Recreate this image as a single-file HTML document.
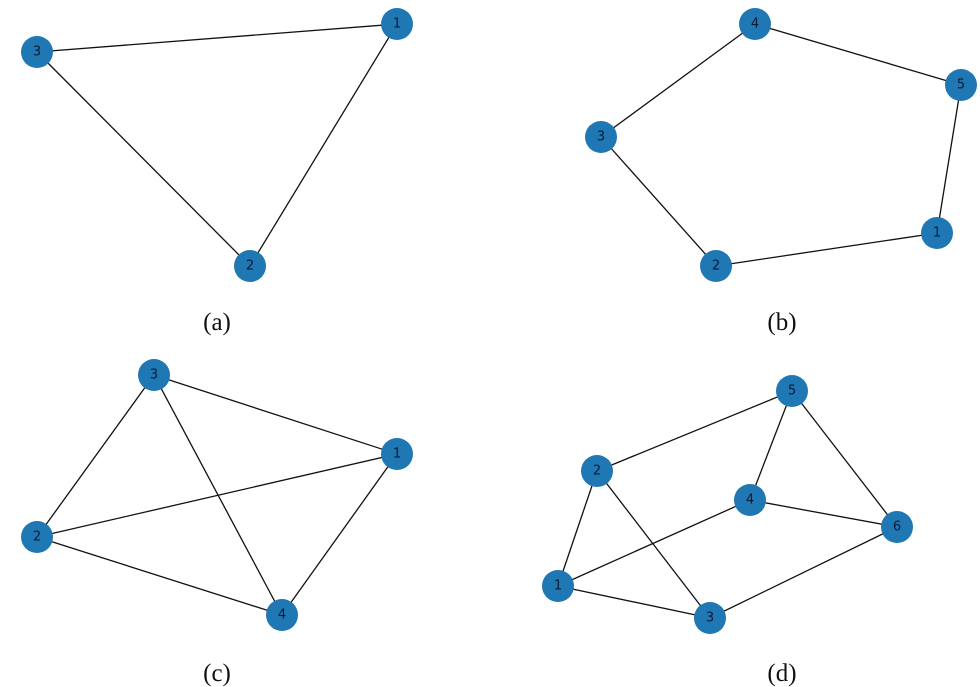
<!DOCTYPE html>
<html><head><meta charset="utf-8"><style>
html,body{margin:0;padding:0;background:#fff;width:980px;height:687px;overflow:hidden}
svg{display:block}
.n{fill:#1f77b4}
.t{font-family:"DejaVu Sans","Liberation Sans",sans-serif;font-size:13px;fill:#0b1b35;text-anchor:middle;dominant-baseline:central}
.c{font-family:"Liberation Serif",serif;font-size:25px;fill:#111;text-anchor:middle}
line{stroke:#111;stroke-width:1.3}
</style></head><body>
<svg width="980" height="687" viewBox="0 0 980 687">
<g>
<line x1="37" y1="52" x2="397" y2="24"/><line x1="37" y1="52" x2="250" y2="266"/><line x1="397" y1="24" x2="250" y2="266"/>
<line x1="755" y1="24" x2="961" y2="85"/><line x1="961" y1="85" x2="937" y2="233"/><line x1="937" y1="233" x2="716" y2="266"/><line x1="716" y1="266" x2="601" y2="137"/><line x1="601" y1="137" x2="755" y2="24"/>
<line x1="154" y1="375" x2="397" y2="454"/><line x1="154" y1="375" x2="37" y2="537"/><line x1="154" y1="375" x2="282" y2="615"/><line x1="37" y1="537" x2="397" y2="454"/><line x1="37" y1="537" x2="282" y2="615"/><line x1="397" y1="454" x2="282" y2="615"/>
<line x1="597" y1="471" x2="792" y2="391"/><line x1="792" y1="391" x2="750" y2="500"/><line x1="792" y1="391" x2="897" y2="527"/><line x1="750" y1="500" x2="897" y2="527"/><line x1="750" y1="500" x2="558" y2="586"/><line x1="597" y1="471" x2="558" y2="586"/><line x1="597" y1="471" x2="710" y2="618"/><line x1="558" y1="586" x2="710" y2="618"/><line x1="710" y1="618" x2="897" y2="527"/>
</g>
<g>
<circle class="n" cx="37" cy="52" r="16"/><text class="t" x="37" y="52">3</text>
<circle class="n" cx="397" cy="24" r="16"/><text class="t" x="397" y="24">1</text>
<circle class="n" cx="250" cy="266" r="16"/><text class="t" x="250" y="266">2</text>
<circle class="n" cx="755" cy="24" r="16"/><text class="t" x="755" y="24">4</text>
<circle class="n" cx="961" cy="85" r="16"/><text class="t" x="961" y="85">5</text>
<circle class="n" cx="601" cy="137" r="16"/><text class="t" x="601" y="137">3</text>
<circle class="n" cx="937" cy="233" r="16"/><text class="t" x="937" y="233">1</text>
<circle class="n" cx="716" cy="266" r="16"/><text class="t" x="716" y="266">2</text>
<circle class="n" cx="154" cy="375" r="16"/><text class="t" x="154" y="375">3</text>
<circle class="n" cx="397" cy="454" r="16"/><text class="t" x="397" y="454">1</text>
<circle class="n" cx="37" cy="537" r="16"/><text class="t" x="37" y="537">2</text>
<circle class="n" cx="282" cy="615" r="16"/><text class="t" x="282" y="615">4</text>
<circle class="n" cx="792" cy="391" r="16"/><text class="t" x="792" y="391">5</text>
<circle class="n" cx="597" cy="471" r="16"/><text class="t" x="597" y="471">2</text>
<circle class="n" cx="750" cy="500" r="16"/><text class="t" x="750" y="500">4</text>
<circle class="n" cx="897" cy="527" r="16"/><text class="t" x="897" y="527">6</text>
<circle class="n" cx="558" cy="586" r="16"/><text class="t" x="558" y="586">1</text>
<circle class="n" cx="710" cy="618" r="16"/><text class="t" x="710" y="618">3</text>
</g>
<text class="c" x="217" y="330">(a)</text>
<text class="c" x="782" y="330">(b)</text>
<text class="c" x="217" y="681">(c)</text>
<text class="c" x="782" y="681">(d)</text>
</svg>
</body></html>
